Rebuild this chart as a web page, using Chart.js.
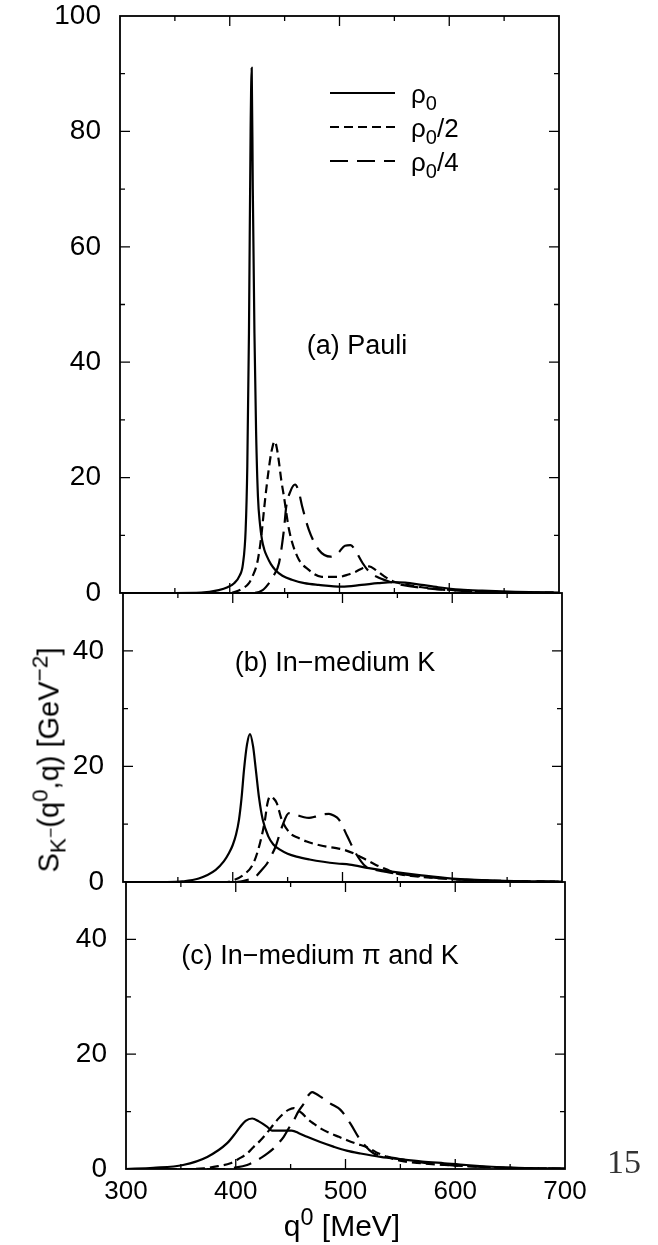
<!DOCTYPE html>
<html>
<head>
<meta charset="utf-8">
<script src="https://cdn.jsdelivr.net/npm/chart.js"></script>
<style>
  body { margin: 0; background: #fff; width: 658px; height: 1245px; position: relative; overflow: hidden;
         font-family: "Liberation Sans", Arial, Helvetica, sans-serif; color: #000; }
  .panel { position: absolute; left: 0; width: 658px; }
  .txt { position: absolute; white-space: nowrap; transform: translate(-50%, -50%); font-size: 27px; }
  .ytitle { position: absolute; left: 49px; top: 760px; white-space: nowrap; font-size: 29px;
            transform: translate(-50%, -50%) rotate(-90deg); }
  sub, sup { font-size: 78%; line-height: 0; }
</style>
</head>
<body>
<div class="panel" style="top:0;height:612px"><canvas id="chartA"></canvas></div>
<div class="panel" style="top:573px;height:329px"><canvas id="chartB"></canvas></div>
<div class="panel" style="top:862px;height:383px"><canvas id="chartC"></canvas></div>

<div class="txt" style="left:357px;top:345px">(a) Pauli</div>
<div class="txt" style="left:335px;top:662px">(b) In−medium K</div>
<div class="txt" style="left:320px;top:955px">(c) In−medium π and K</div>
<div class="ytitle">S<sub>K<sup>−</sup></sub>(q<sup>0</sup>,q) [GeV<sup>−2</sup>]</div>
<div class="txt" style="left:342px;top:1226px;font-size:30px">q<sup>0</sup> [MeV]</div>
<div class="txt" style="left:624px;top:1162px;font-family:'Liberation Serif',serif;font-size:34px;color:#333">15</div>

<script>
Chart.defaults.font.family = '"Liberation Sans", Arial, Helvetica, sans-serif';
Chart.defaults.color = '#000';

var densityLabels = ['ρ₀', 'ρ₀/2', 'ρ₀/4'];
var qTickLabels = [300, 400, 500, 600, 700];

// (a) Pauli
var qA1 = [300, 350, 374, 390, 398, 404, 409, 412, 414.5, 416, 417.5, 419, 420, 421, 422.5, 424, 425.7, 427.5, 429.4, 431.5, 434, 437.5, 441.5, 448, 456.6, 468, 481, 502, 520, 535, 548, 560, 575, 590, 610, 630, 660, 700];
var sA1 = [0, 0, 0.05, 0.5, 1.0, 1.7, 3, 5, 11, 22, 45, 80, 91, 70, 45, 28, 16.7, 12, 9.2, 7.5, 6.3, 5, 4, 3, 2.3, 1.7, 1.4, 1.1, 1.4, 1.7, 1.9, 1.8, 1.4, 1.0, 0.6, 0.4, 0.2, 0.05];
var qA2 = [300, 400, 405, 412, 417.5, 421, 425, 427.5, 429.4, 431, 432.5, 435.5, 438, 441, 443, 444.9, 447, 449.4, 454, 461.6, 472, 484, 499.5, 508, 514.8, 521, 527, 533, 540, 549, 560, 575, 595, 620, 650, 700];
var sA2 = [0, 0, 0.2, 0.8, 1.7, 3, 5.2, 8, 11, 14, 16.7, 21.4, 24.5, 26.3, 25, 22.6, 19.5, 16.7, 11, 6.3, 4, 2.8, 2.8, 3.2, 3.7, 4.3, 4.6, 4.0, 3.0, 2.0, 1.5, 1.0, 0.6, 0.35, 0.15, 0.05];
var qA3 = [300, 420, 430, 435.8, 440, 444.9, 449.4, 451.5, 455, 459.5, 463, 466, 472, 481, 492, 499, 505, 510, 515, 521, 527, 534, 545, 557, 575, 600, 630, 660, 700];
var sA3 = [0, 0, 0.5, 1.7, 3, 5.2, 11, 15, 17.5, 18.8, 17.5, 15, 11, 7.5, 6.3, 7, 8.2, 8.3, 7.2, 5.2, 3.7, 2.8, 2.0, 1.4, 0.9, 0.5, 0.25, 0.1, 0.05];

// (b) In-medium K
var qB1 = [300, 340, 354, 369, 384.5, 392, 396.6, 400, 403, 405.7, 408, 410.3, 413, 415.7, 418.5, 421, 424, 427.3, 432.4, 437, 443, 450, 458, 470, 482.5, 495, 506.5, 524, 545, 570, 600, 640, 700];
var sB1 = [0, 0, 0.1, 0.6, 2.1, 3.6, 5, 6.4, 8.2, 10.8, 14.5, 19.5, 23.8, 25.6, 23.5, 19.5, 14.5, 10.8, 7.9, 6.5, 5.6, 4.9, 4.4, 3.9, 3.5, 3.2, 3.0, 2.4, 1.8, 1.2, 0.6, 0.25, 0.05];
var qB2 = [300, 395, 400.5, 409.6, 418.7, 424.8, 429.4, 431.5, 434, 437, 440, 444.6, 452, 460, 467.4, 476, 485.6, 493, 500.8, 513, 522, 530, 540, 549, 565, 585, 610, 650, 700];
var sB2 = [0, 0, 0.3, 1.2, 3.2, 6.7, 10.8, 13.5, 14.8, 14.5, 13.7, 10.8, 8.5, 7.6, 7, 6.5, 6.1, 5.9, 5.6, 4.7, 3.8, 3.0, 2.2, 1.5, 1.0, 0.7, 0.4, 0.15, 0.05];
var qB3 = [300, 403, 412, 420.6, 426, 431.3, 435, 439, 445, 451.2, 458, 465, 469.5, 475, 482, 487.7, 492, 496.8, 504.4, 512, 521, 530, 538.5, 550, 565, 600, 640, 700];
var sB3 = [0, 0, 0.3, 0.9, 2, 3.2, 4.5, 6.1, 9.6, 11.9, 11.6, 11.2, 11.1, 11.3, 11.7, 11.8, 11.5, 10.8, 7.9, 5, 2.7, 2.1, 1.8, 1.4, 1.1, 0.5, 0.2, 0.05];

// (c) In-medium pi and K
var qC1 = [300, 325, 352, 374, 392.2, 400, 404.3, 409, 415, 421, 428.4, 433, 442, 451, 458, 465, 477, 489, 501, 513.7, 532, 550, 570, 590, 610, 650, 700];
var sC1 = [0, 0.2, 0.7, 2.1, 4.5, 6.3, 7.4, 8.4, 8.8, 8.3, 7.4, 6.7, 6.7, 6.7, 6.2, 5.6, 4.7, 3.9, 3.2, 2.7, 2.1, 1.7, 1.3, 1.0, 0.7, 0.25, 0.05];
var qC2 = [300, 360, 371, 384, 395.2, 403, 410.4, 416, 422.6, 428, 433, 438, 443.7, 448, 452.9, 456, 460.5, 465, 471, 478, 486.3, 494, 501.5, 510, 519.7, 530.3, 548.6, 570, 600, 640, 700];
var sC2 = [0, 0, 0.1, 0.5, 1.0, 1.8, 2.7, 3.8, 5, 6.2, 7.4, 8.6, 9.7, 10.3, 10.6, 10.3, 9.7, 8.8, 7.9, 7.0, 6.2, 5.6, 5.0, 4.4, 3.8, 2.7, 1.5, 1.0, 0.6, 0.25, 0.05];
var qC3 = [300, 390, 398.3, 410.4, 422.6, 428, 434.6, 439, 443.7, 448, 452.9, 457, 462, 466, 469.6, 473, 477.2, 486.3, 495.4, 504.5, 513.7, 525.8, 535, 545, 560, 580, 600, 640, 700];
var sC3 = [0, 0, 0.2, 0.7, 1.9, 2.6, 3.6, 4.5, 5.6, 7.0, 8.5, 10.0, 11.4, 12.8, 13.4, 13.1, 12.6, 11.4, 10.3, 7.9, 5, 2.7, 2.3, 1.9, 1.4, 0.9, 0.6, 0.25, 0.05];

var dashes = [[], [9, 5], [18, 9]];

function pts(q, s) {
  return q.map(function (v, i) { return {x: v, y: s[i]}; });
}

function sets(pairs) {
  return pairs.map(function (p, i) {
    return {
      label: densityLabels[i],
      data: pts(p[0], p[1]),
      borderColor: '#000',
      borderWidth: 2.2,
      borderDash: dashes[i],
      pointRadius: 0,
      fill: false,
      cubicInterpolationMode: 'monotone'
    };
  });
}

// frame and inward ticks on all four sides
var frameTicks = {
  id: 'frameTicks',
  afterDatasetsDraw: function (chart) {
    var a = chart.chartArea, ctx = chart.ctx, xs = chart.scales.x, ys = chart.scales.y;
    ctx.save();
    ctx.strokeStyle = '#000';
    ctx.lineWidth = 1.8;
    ctx.setLineDash([]);
    ctx.strokeRect(a.left, a.top, a.right - a.left, a.bottom - a.top);
    ctx.lineWidth = 1.3;
    ctx.beginPath();
    for (var v = xs.min + 50; v < xs.max; v += 50) {
      var px = xs.getPixelForValue(v), len = v % 100 === 0 ? 10 : 5;
      ctx.moveTo(px, a.bottom); ctx.lineTo(px, a.bottom - len);
      ctx.moveTo(px, a.top); ctx.lineTo(px, a.top + len);
    }
    for (var w = ys.min + 10; w < ys.max; w += 10) {
      var py = ys.getPixelForValue(w), l2 = w % 20 === 0 ? 10 : 5;
      ctx.moveTo(a.left, py); ctx.lineTo(a.left + l2, py);
      ctx.moveTo(a.right, py); ctx.lineTo(a.right - l2, py);
    }
    ctx.stroke();
    ctx.restore();
  }
};

var rhoLegend = {
  id: 'rhoLegend',
  afterDatasetsDraw: function (chart, args, opts) {
    var ctx = chart.ctx;
    ctx.save();
    ctx.strokeStyle = '#000';
    ctx.fillStyle = '#000';
    ctx.textBaseline = 'alphabetic';
    chart.data.datasets.forEach(function (ds, i) {
      var y = opts.y0 + i * opts.dy;
      ctx.lineWidth = 2;
      ctx.setLineDash(ds.borderDash);
      ctx.beginPath();
      ctx.moveTo(opts.x0, y);
      ctx.lineTo(opts.x1, y);
      ctx.stroke();
      ctx.setLineDash([]);
      var parts = ds.label.split('₀');
      var x = opts.xt;
      ctx.font = '26px "Liberation Sans", Arial, sans-serif';
      ctx.fillText(parts[0], x, y + 10);
      x += ctx.measureText(parts[0]).width;
      ctx.font = '20px "Liberation Sans", Arial, sans-serif';
      ctx.fillText('0', x, y + 17);
      x += ctx.measureText('0').width;
      ctx.font = '26px "Liberation Sans", Arial, sans-serif';
      ctx.fillText(parts[1], x, y + 10);
    });
    ctx.restore();
  }
};

function makePanel(id, pairs, yMax, box, showX, withLegend) {
  var plugins = [frameTicks];
  if (withLegend) plugins.push(rhoLegend);
  return new Chart(id, {
    type: 'line',
    data: {datasets: sets(pairs)},
    plugins: plugins,
    options: {
      responsive: true,
      maintainAspectRatio: false,
      animation: false,
      layout: {padding: {left: 0, right: 658 - box.right, top: box.top, bottom: box.bottom}},
      plugins: {
        legend: {display: false},
        tooltip: {enabled: false},
        rhoLegend: {x0: 330, x1: 395, xt: 411, y0: 93, dy: 34}
      },
      scales: {
        x: {
          type: 'linear', min: 300, max: 700, display: showX,
          grid: {display: false, drawTicks: false},
          border: {display: false},
          ticks: {
            stepSize: 100, padding: 7, maxRotation: 0, autoSkip: false,
            font: {size: 26},
            callback: function (v) { return qTickLabels.indexOf(v) >= 0 ? v : ''; }
          },
          afterFit: function (s) {
            s.height = showX ? 40 : 0;
            s.paddingLeft = 0; s.paddingRight = 0;
          }
        },
        y: {
          min: 0, max: yMax,
          grid: {display: false, drawTicks: false},
          border: {display: false},
          ticks: {
            stepSize: 10, padding: 19, autoSkip: false,
            font: {size: 28},
            callback: function (v) { return v % 20 === 0 ? v : ''; }
          },
          afterFit: function (s) {
            s.width = box.left;
            s.paddingTop = 0; s.paddingBottom = 0;
          }
        }
      }
    }
  });
}

makePanel('chartA', [[qA1, sA1], [qA2, sA2], [qA3, sA3]], 100, {left: 120, right: 559, top: 16, bottom: 19}, false, true);
makePanel('chartB', [[qB1, sB1], [qB2, sB2], [qB3, sB3]], 50, {left: 123, right: 562, top: 20, bottom: 20}, false, false);
makePanel('chartC', [[qC1, sC1], [qC2, sC2], [qC3, sC3]], 50, {left: 126, right: 565, top: 20, bottom: 36}, true, false);
</script>
</body>
</html>
